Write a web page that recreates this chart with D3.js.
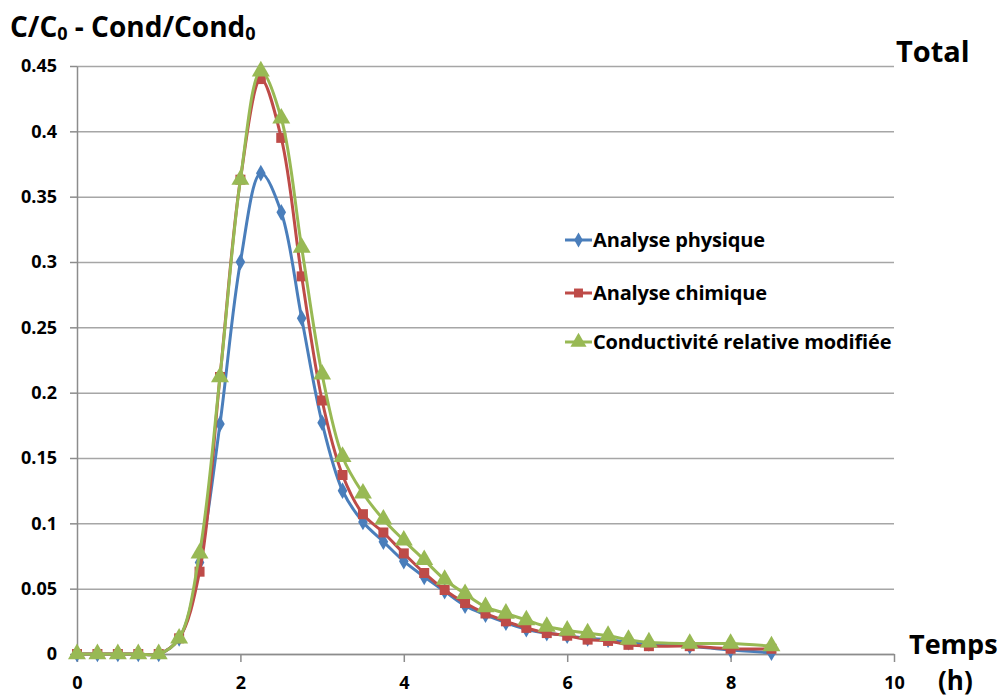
<!DOCTYPE html>
<html>
<head>
<meta charset="utf-8">
<script src="https://cdn.jsdelivr.net/npm/d3@7"></script>
<style>
  body { margin: 0; background: #fff; }
  svg text { font-family: "Open Sans", sans-serif; font-weight: bold; fill: #000; }
</style>
</head>
<body>
<div id="chart"></div>
<script>
// time (h)
var temps = [0, 0.25, 0.5, 0.75, 1, 1.25, 1.5, 1.75, 2, 2.25, 2.5, 2.75, 3, 3.25, 3.5, 3.75, 4,
             4.25, 4.5, 4.75, 5, 5.25, 5.5, 5.75, 6, 6.25, 6.5, 6.75, 7, 7.5, 8, 8.5];

var physique = [0, 0, 0, 0, 0, 0.012, 0.07, 0.176, 0.300, 0.368, 0.338, 0.257, 0.177, 0.125, 0.101, 0.086, 0.071,
                0.059, 0.048, 0.037, 0.030, 0.024, 0.019, 0.016, 0.014, 0.012, 0.011, 0.009, 0.008, 0.006, 0.003, 0.001];

var chimique = [0, 0, 0, 0, 0, 0.012, 0.063, 0.212, 0.363, 0.440, 0.395, 0.289, 0.194, 0.137, 0.107, 0.093, 0.077,
                0.062, 0.049, 0.039, 0.031, 0.025, 0.020, 0.016, 0.014, 0.011, 0.010, 0.007, 0.006, 0.006, 0.004, 0.004];

var conductivite = [0, 0, 0, 0, 0, 0.012, 0.077, 0.212, 0.363, 0.446, 0.410, 0.311, 0.214, 0.151, 0.123, 0.103, 0.087,
                    0.072, 0.057, 0.046, 0.036, 0.031, 0.026, 0.021, 0.018, 0.016, 0.014, 0.011, 0.009, 0.008, 0.008, 0.006];

var seriesNames = ["Analyse physique", "Analyse chimique", "Conductivité relative modifiée"];
var seriesColors = ["#4a7ebb", "#be4b48", "#98b954"];
var seriesShapes = [d3.symbolDiamond, d3.symbolSquare, d3.symbolTriangle];
var seriesValues = [physique, chimique, conductivite];

var yTicks = [0, 0.05, 0.1, 0.15, 0.2, 0.25, 0.3, 0.35, 0.4, 0.45];
var xTicks = [0, 2, 4, 6, 8, 10];

var width = 1002, height = 700;
var svg = d3.select("#chart").append("svg")
    .attr("width", width)
    .attr("height", height);

svg.append("rect").attr("width", width).attr("height", height).attr("fill", "#fff");

var x = d3.scaleLinear().domain([0, 10]).range([77, 894]);
var y = d3.scaleLinear().domain([0, 0.45]).range([654, 66]);

// horizontal grid
svg.append("g")
    .attr("transform", "translate(" + x(0) + ",0)")
    .call(d3.axisLeft(y).tickValues(yTicks).tickFormat("").tickSize(-(x(10) - x(0))).tickSizeOuter(0))
    .call(function (g) { g.select(".domain").remove(); })
    .selectAll("line").attr("stroke", "#a6a6a6").attr("stroke-width", 1.5);

// y axis with outside ticks
var yAxis = svg.append("g")
    .attr("transform", "translate(" + x(0) + ",0)")
    .call(d3.axisLeft(y).tickValues(yTicks).tickSize(7).tickSizeOuter(0).tickPadding(13)
        .tickFormat(function (d) { return d === 0 ? "0" : String(+d.toFixed(2)); }));
yAxis.select(".domain").attr("stroke", "#8c8c8c").attr("stroke-width", 1.5);
yAxis.selectAll("line").attr("stroke", "#8c8c8c").attr("stroke-width", 1.5);
yAxis.selectAll("text").style("font-size", "18px").attr("fill", "#000");

// x axis
var xAxis = svg.append("g")
    .attr("transform", "translate(0," + y(0) + ")")
    .call(d3.axisBottom(x).tickValues(xTicks).tickSize(8).tickSizeOuter(0).tickPadding(14));
xAxis.select(".domain").attr("stroke", "#8c8c8c").attr("stroke-width", 1.5);
xAxis.selectAll("line").attr("stroke", "#8c8c8c").attr("stroke-width", 1.5);
xAxis.selectAll("text").style("font-size", "18px").attr("fill", "#000");

// series
var line = d3.line()
    .x(function (d) { return x(d[0]); })
    .y(function (d) { return y(d[1]); })
    .curve(d3.curveCatmullRom.alpha(0.5));

var markerSizes = [80, 100, 140];

seriesValues.forEach(function (vals, i) {
    var pts = temps.map(function (t, k) { return [t, vals[k]]; });
    var g = svg.append("g");
    g.append("path")
        .datum(pts)
        .attr("fill", "none")
        .attr("stroke", seriesColors[i])
        .attr("stroke-width", 3)
        .attr("d", line);
    g.selectAll("path.mk")
        .data(pts)
        .enter()
        .append("path")
        .attr("class", "mk")
        .attr("transform", function (d) { return "translate(" + x(d[0]) + "," + y(d[1]) + ")"; })
        .attr("d", d3.symbol().type(seriesShapes[i]).size(markerSizes[i]))
        .attr("fill", seriesColors[i]);
});

// legend
var legendY = [240, 293, 342];
var legend = svg.append("g");
seriesNames.forEach(function (name, i) {
    var lg = legend.append("g").attr("transform", "translate(565," + legendY[i] + ")");
    lg.append("line").attr("x1", 0).attr("x2", 27).attr("y1", 0).attr("y2", 0)
        .attr("stroke", seriesColors[i]).attr("stroke-width", 3);
    lg.append("path").attr("transform", "translate(13.5,0)")
        .attr("d", d3.symbol().type(seriesShapes[i]).size(markerSizes[i] * 0.8))
        .attr("fill", seriesColors[i]);
    lg.append("text").attr("x", 28).attr("y", 0).attr("dy", "0.35em")
        .style("font-size", "20px").style("letter-spacing", "-0.15px").text(name);
});

// titles
var title = svg.append("text").attr("x", 10).attr("y", 37).style("font-size", "28px");
title.append("tspan").text("C/C");
title.append("tspan").text("0").style("font-size", "18px").attr("dy", 3);
title.append("tspan").text(" - Cond/Cond").attr("dy", -3);
title.append("tspan").text("0").style("font-size", "18px").attr("dy", 3);

svg.append("text").attr("x", 896).attr("y", 62).style("font-size", "29px").text("Total");
svg.append("text").attr("x", 909).attr("y", 654).style("font-size", "27px").text("Temps");
svg.append("text").attr("x", 938).attr("y", 690).style("font-size", "26px").text("(h)");
</script>
</body>
</html>
